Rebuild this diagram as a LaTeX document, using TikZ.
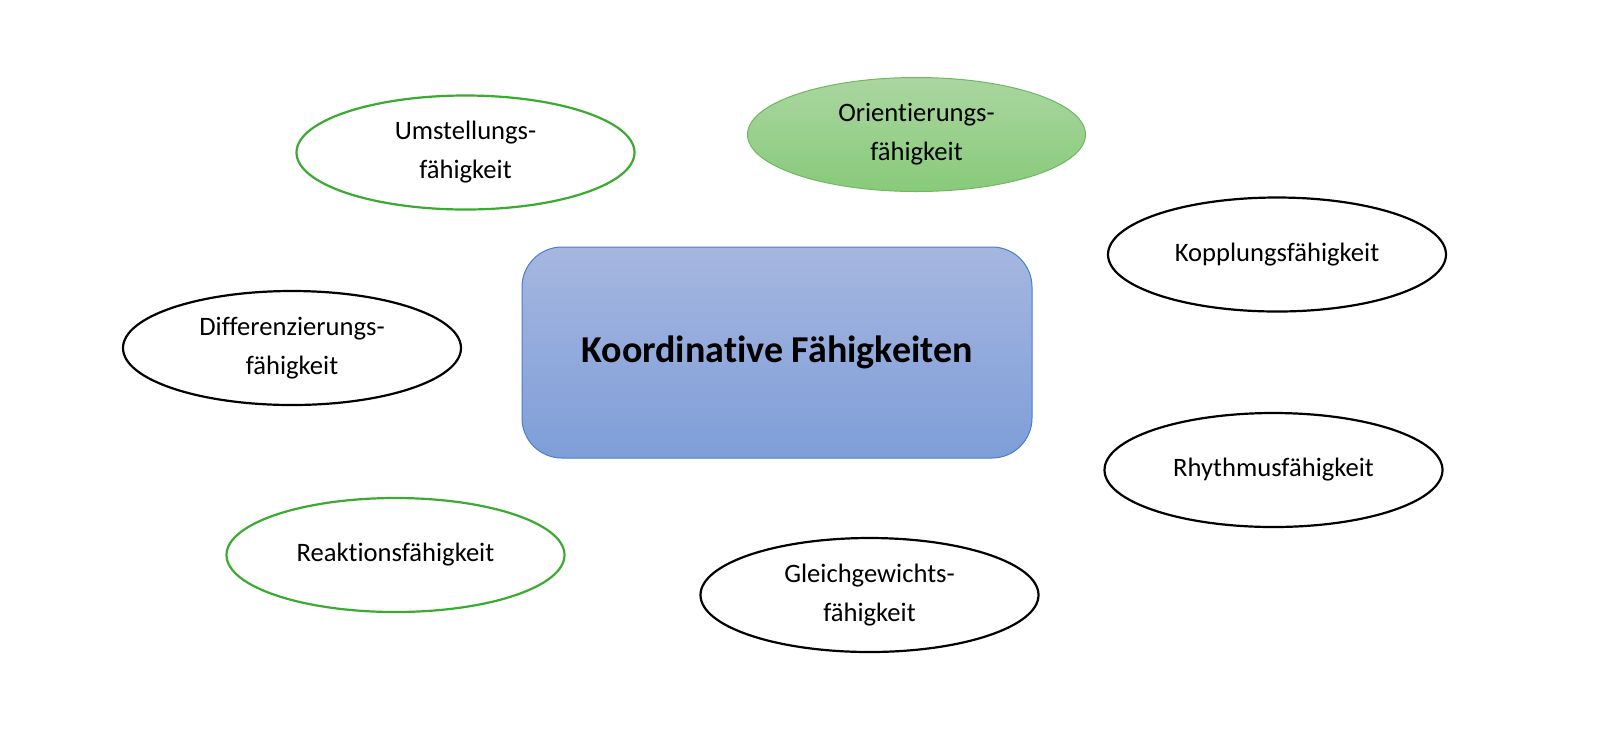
\documentclass[tikz,border=0pt]{standalone}
\usepackage{fontspec}
\setmainfont{Carlito}[Ligatures=NoCommon]
\usetikzlibrary{shapes.geometric}
\definecolor{greenline}{RGB}{58,170,48}
\definecolor{gtop}{RGB}{170,214,160}
\definecolor{gbot}{RGB}{136,202,122}
\definecolor{gline}{RGB}{112,184,96}
\definecolor{btop}{RGB}{166,182,224}
\definecolor{bbot}{RGB}{126,158,216}
\definecolor{bline}{RGB}{72,126,208}
\tikzset{
  skill/.style={ellipse, draw=black, line width=1.1pt, minimum width=169pt, minimum height=57pt,
    inner sep=0pt, align=center, font=\fontsize{13.3}{19.5}\selectfont},
  greenskill/.style={skill, draw=greenline},
  filledskill/.style={skill, draw=gline, line width=0.5pt, top color=gtop, bottom color=gbot},
  mainbox/.style={rectangle, rounded corners=20pt, draw=bline, line width=0.5pt,
    top color=btop, bottom color=bbot, minimum width=255pt, minimum height=105.5pt,
    inner sep=0pt, font=\fontsize{19}{22}\selectfont\bfseries}
}
\begin{document}
\begin{tikzpicture}[x=0.5pt,y=-0.5pt]
\useasboundingbox (0,0) rectangle (1600,741);
\node[mainbox] (main) at (777,352.5) {Koordinative Fähigkeiten};
\node[greenskill] (umst) at (465.5,152.5) {Umstellungs-\\fähigkeit};
\node[filledskill] (orient) at (916.5,134.5) {Orientierungs-\\fähigkeit};
\node[skill] (kopp) at (1277,254.5) {Kopplungsfähigkeit};
\node[skill] (diff) at (292,348) {Differenzierungs-\\fähigkeit};
\node[skill] (rhyth) at (1273.5,470) {Rhythmusfähigkeit};
\node[greenskill] (reakt) at (395.5,555) {Reaktionsfähigkeit};
\node[skill] (gleich) at (869.5,595) {Gleichgewichts-\\fähigkeit};
\end{tikzpicture}
\end{document}
